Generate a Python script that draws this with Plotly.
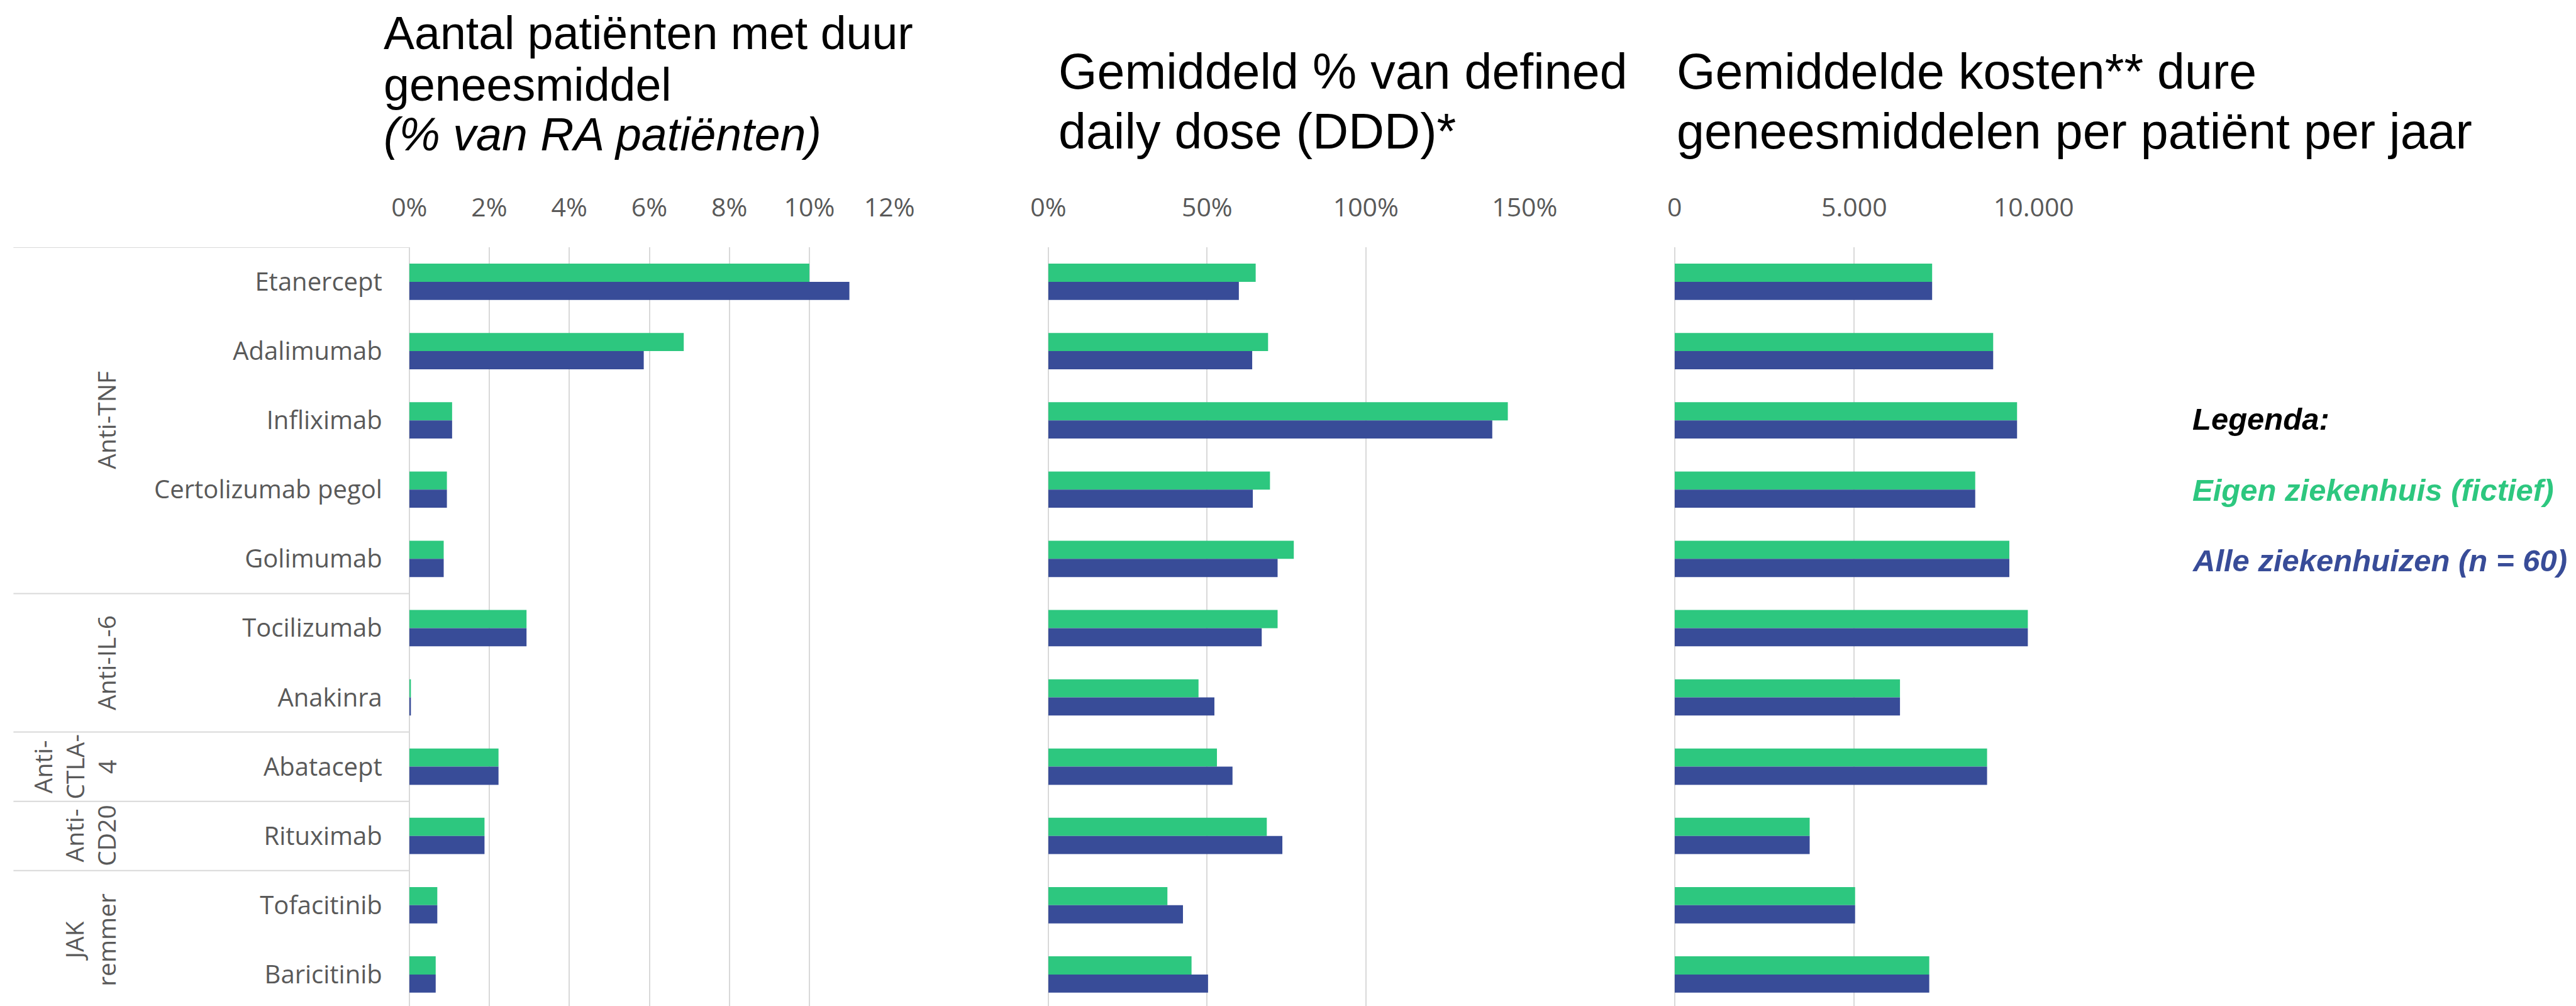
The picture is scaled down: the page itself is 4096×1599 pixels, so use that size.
import plotly.graph_objects as go

# ---------------- data ----------------
drugs = ["Etanercept", "Adalimumab", "Infliximab", "Certolizumab pegol", "Golimumab",
         "Tocilizumab", "Anakinra", "Abatacept", "Rituximab", "Tofacitinib", "Baricitinib"]

groups = ["Anti-TNF", "Anti-IL-6", "Anti-<br>CTLA-<br>4", "Anti-<br>CD20", "JAK<br>remmer"]
group_start = [0, 5, 7, 8, 9]   # first drug index of each group
group_end = [4, 6, 7, 8, 10]    # last drug index of each group

series_names = ["Eigen ziekenhuis (fictief)", "Alle ziekenhuizen (n = 60)"]

# panel 1: % of RA patients with expensive medicine
pct_patients_eigen = [0.100, 0.0686, 0.0107, 0.0094, 0.0086, 0.0293, 0.0004, 0.0223, 0.0188, 0.0070, 0.0066]
pct_patients_alle = [0.110, 0.0586, 0.0107, 0.0094, 0.0086, 0.0293, 0.0004, 0.0223, 0.0188, 0.0070, 0.0066]

# panel 2: mean % of defined daily dose
ddd_eigen = [0.653, 0.692, 1.447, 0.698, 0.773, 0.722, 0.473, 0.531, 0.688, 0.375, 0.451]
ddd_alle = [0.600, 0.642, 1.398, 0.644, 0.722, 0.672, 0.523, 0.580, 0.737, 0.424, 0.503]

# panel 3: mean costs per patient per year
cost_eigen = [7170, 8870, 9535, 8370, 9320, 9835, 6275, 8700, 3760, 5025, 7090]
cost_alle = [7170, 8870, 9535, 8370, 9320, 9835, 6275, 8700, 3760, 5025, 7090]

x1_ticks = [0, 0.02, 0.04, 0.06, 0.08, 0.10, 0.12]
x2_ticks = [0, 0.5, 1.0, 1.5]
x3_ticks = [0, 5000, 10000]

title1_lines = ["Aantal patiënten met duur", "geneesmiddel", "<i>(% van RA patiënten)</i>"]
title2_lines = ["Gemiddeld % van defined", "daily dose (DDD)*"]
title3_lines = ["Gemiddelde kosten** dure", "geneesmiddelen per patiënt per jaar"]
legend_title = "<b><i>Legenda:</i></b>"

# ---------------- style ----------------
OFF = 8                      # default page (body) margin of the html page
W, H = 4096 - OFF, 1599 - OFF
GREEN = "#2DC77F"
BLUE = "#384C98"
GRID = "#D9D9D9"
LABEL = "#595959"
LBL_FONT = "Open Sans"
TITLE_FONT = "Liberation Sans, Arial, sans-serif"

def px(v):
    """screen x (px in 4096 window) -> paper fraction"""
    return (v - OFF) / W

def py(v):
    """screen y (px in 1599 window) -> paper fraction"""
    return 1 - (v - OFF) / H

fig = go.Figure()

panels = [("x", pct_patients_eigen, pct_patients_alle),
          ("x2", ddd_eigen, ddd_alle),
          ("x3", cost_eigen, cost_alle)]
for xa, ve, va in panels:
    fig.add_trace(go.Bar(y=drugs, x=ve, orientation="h", xaxis=xa, yaxis="y",
                         marker=dict(color=GREEN, line=dict(width=0)),
                         name=series_names[0], showlegend=False))
    fig.add_trace(go.Bar(y=drugs, x=va, orientation="h", xaxis=xa, yaxis="y",
                         marker=dict(color=BLUE, line=dict(width=0)),
                         name=series_names[1], showlegend=False))

xaxis_common = dict(side="top", anchor="y", showgrid=True, gridcolor=GRID, gridwidth=2,
                    zeroline=True, zerolinecolor=GRID, zerolinewidth=2, showline=False,
                    ticks="", ticklabelstandoff=40, automargin=False,
                    tickfont=dict(family=LBL_FONT, size=41, color=LABEL), fixedrange=True)

fig.update_layout(
    width=W, height=H, autosize=False,
    margin=dict(l=0, r=0, t=0, b=0, pad=0, autoexpand=False),
    paper_bgcolor="white", plot_bgcolor="white",
    barmode="group", bargap=0.476, bargroupgap=0,
    separators=",.",
    showlegend=False,
    xaxis=dict(domain=[px(650.8), px(1414.2)], range=[0, 0.12], tickvals=x1_ticks,
               tickformat=".0%", **xaxis_common),
    xaxis2=dict(domain=[px(1666.9), px(2424.3)], range=[0, 1.5], tickvals=x2_ticks,
                tickformat=".0%", **xaxis_common),
    xaxis3=dict(domain=[px(2662.8), px(3233.8)], range=[0, 10000], tickvals=x3_ticks,
                tickformat=",.0f", **xaxis_common),
    yaxis=dict(domain=[0, py(392.9)], type="category", categoryorder="array",
               categoryarray=drugs, range=[10.455, -0.5], anchor="x",
               showgrid=False, zeroline=False, showline=False, ticks="",
               ticklabelstandoff=42, automargin=False,
               tickfont=dict(family=LBL_FONT, size=40, color=LABEL), fixedrange=True),
)

# group separator lines in the category-label area
sep_positions = [-0.5] + [e + 0.5 for e in group_end[:-1]]
for yv in sep_positions:
    fig.add_shape(type="line", xref="paper", yref="y", x0=px(21.4), x1=px(650.8),
                  y0=yv, y1=yv, line=dict(color=GRID, width=2), layer="below")

# group labels (rotated)
for g, s, e in zip(groups, group_start, group_end):
    fig.add_annotation(text=g, xref="paper", yref="y", x=px(197), y=(s + e) / 2,
                       xanchor="right", yanchor="middle", textangle=-90, showarrow=False,
                       align="center",
                       font=dict(family=LBL_FONT, size=39, color=LABEL))

# panel titles (one annotation per line to control line spacing)
def add_lines(lines, x_left, centers, size):
    for t, c in zip(lines, centers):
        fig.add_annotation(text=t, xref="paper", yref="paper", x=px(x_left), y=py(c),
                           xanchor="left", yanchor="middle", showarrow=False, align="left",
                           font=dict(family=TITLE_FONT, size=size, color="black"))

add_lines(title1_lines, 608.0, [52.0, 134.0, 214.0], 73.5)
add_lines(title2_lines, 1680.5, [113.2, 208.1], 79)
add_lines(title3_lines, 2663.7, [113.2, 208.1], 79)

# legend text
leg_texts = [legend_title,
             "<b><i>" + series_names[0] + "</i></b>",
             "<b><i>" + series_names[1] + "</i></b>"]
leg_colors = ["black", GREEN, BLUE]
leg_centers = [666.0, 779.0, 891.0]
for t, c, yc in zip(leg_texts, leg_colors, leg_centers):
    fig.add_annotation(text=t, xref="paper", yref="paper", x=px(3484), y=py(yc),
                       xanchor="left", yanchor="middle", showarrow=False, align="left",
                       font=dict(family=TITLE_FONT, size=49, color=c))

fig.write_html("out.html")
